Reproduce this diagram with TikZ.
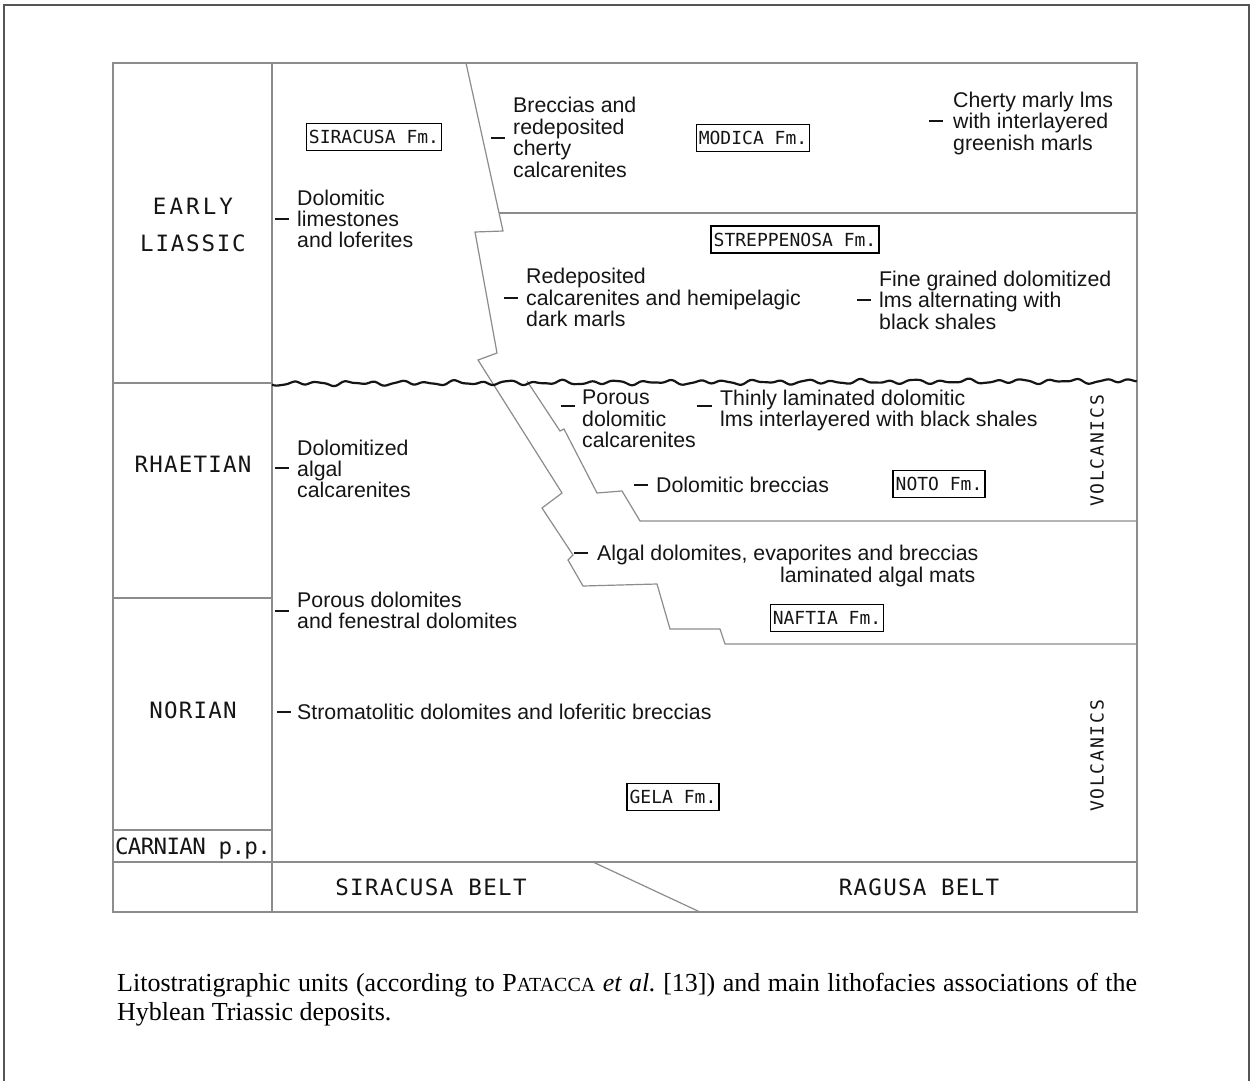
\documentclass[tikz,border=0pt]{standalone}
\usepackage{fontspec}
\setmainfont{Liberation Sans}
\newfontfamily\techfont{DejaVu Sans Mono}
\newfontfamily\capfont{Liberation Serif}
\usetikzlibrary{calc}
\definecolor{tablegray}{HTML}{8C8C8C}
\definecolor{txt}{HTML}{151515}
\definecolor{framegray}{HTML}{555555}
\begin{document}
\begin{tikzpicture}[x=1pt,y=-1pt,
  gridline/.style={draw=tablegray,line width=1.2pt,line join=miter},
  fmbox/.style={draw=black,line width=1.6pt,font=\techfont\fontsize{18}{18}\selectfont,text=txt,inner xsep=2.5pt,inner ysep=7pt,text height=13pt,text depth=0pt},
  lith/.style={font=\fontsize{21.3}{21.5}\selectfont,text=txt,inner sep=0pt,anchor=base west},
  lithr/.style={font=\fontsize{21.3}{21.5}\selectfont,text=txt,inner sep=0pt,anchor=base east},
  dashmark/.style={draw=txt,line width=1.2pt},
  agesp/.style={font=\techfont\fontsize{22.5}{22.5}\selectfont\addfontfeature{LetterSpace=#1},text=txt,inner sep=0pt,text height=16.4pt,text depth=0pt},
  volc/.style={font=\techfont\fontsize{18}{18}\selectfont\addfontfeature{LetterSpace=10},text=txt,inner sep=0pt,text height=13pt,text depth=0pt,rotate=90},
  capline/.style={font=\capfont\fontsize{26}{29.5}\selectfont\frenchspacing,text=black,inner sep=0pt,anchor=base west}
  ]
\useasboundingbox (0,0) rectangle (1250,1081);
\fill[white] (0,0) rectangle (1250,1081);
\draw[framegray,line width=1.6pt] (4,1090) -- (4,5) -- (1249,5) -- (1249,1090);

% table
\draw[gridline] (113,63) rectangle (1137,912);
\draw[gridline] (272,63) -- (272,912);
\draw[gridline] (113,383) -- (272,383);
\draw[gridline] (113,598) -- (272,598);
\draw[gridline] (113,830) -- (272,830);
\draw[gridline] (113,862) -- (1137,862);
\draw[gridline] (593,862) -- (700,912);
\draw[gridline] (499,213) -- (1137,213);
% boundary Siracusa / basin
\draw[gridline] (466,63) -- (503,231) -- (475,232) -- (497,353) -- (478,360) -- (562,493) -- (542,508) -- (573,555) -- (568,560) -- (583,586) -- (657,584) -- (670,629) -- (720,629) -- (725,644) -- (1137,644);
% boundary Noto
\draw[gridline] (527,381) -- (560,431) -- (564,429) -- (597,493) -- (622,491) -- (640,521) -- (1137,521);
% unconformity
\draw[txt,line width=2.2pt,line join=round] plot[domain=0:8.65,samples=430,smooth,variable=\t] ({272+100*\t},{383.5-2.5*\t/8.65+1.5*sin(1330*\t)+0.9*sin(710*\t+30)+0.6*sin(2*mod(1150*\t,180)+70)});

% ages
\node[agesp=13.7] (early) at (193,206) {EARLY};
\node[agesp=8] (liassic) at (193,243) {LIASSIC};
\node[agesp=5.3] (rhaetian) at (193,464) {RHAETIAN};
\node[agesp=5.3] (norian) at (193,710) {NORIAN};
\node[agesp=-3] (carnian) at (193,846) {CARNIAN p.p.};
\node[agesp=6.2] (sirbelt) at (431,887) {SIRACUSA BELT};
\node[agesp=5.5] (ragbelt) at (919,887) {RAGUSA BELT};

% formations
\node[fmbox] (siracusa) at (374,137) {SIRACUSA Fm.};
\node[fmbox] (modica) at (753,138) {MODICA Fm.};
\node[fmbox] (streppenosa) at (795,239.5) {STREPPENOSA Fm.};
\node[fmbox] (noto) at (939,484) {NOTO Fm.};
\node[fmbox] (naftia) at (827,618) {NAFTIA Fm.};
\node[fmbox] (gela) at (673,797) {GELA Fm.};
\node[volc] (volc1) at (1097,451) {VOLCANICS};
\node[volc] (volc2) at (1097,756) {VOLCANICS};

% lithofacies
\node[lith] (l1a) at (297,205) {Dolomitic};
\node[lith] (l1b) at (297,226) {limestones};
\node[lith] (l1c) at (297,247) {and loferites};
\draw[dashmark] ($(l1b.base west)+(-22,-7)$) -- ++(14,0);

\node[lith] (l2a) at (513,112) {Breccias and};
\node[lith] (l2b) at (513,134) {redeposited};
\node[lith] (l2c) at (513,155) {cherty};
\node[lith] (l2d) at (513,177) {calcarenites};
\draw[dashmark] ($(l2b.base west)+(-22,4)$) -- ++(14,0);

\node[lith] (l3a) at (953,107) {Cherty marly lms};
\node[lith] (l3b) at (953,128) {with interlayered};
\node[lith] (l3c) at (953,150) {greenish marls};
\draw[dashmark] ($(l3b.base west)+(-24,-7)$) -- ++(14,0);

\node[lith] (l4a) at (526,283) {Redeposited};
\node[lith] (l4b) at (526,305) {calcarenites and hemipelagic};
\node[lith] (l4c) at (526,326) {dark marls};
\draw[dashmark] ($(l4b.base west)+(-22,-7)$) -- ++(14,0);

\node[lith] (l5a) at (879,286) {Fine grained dolomitized};
\node[lith] (l5b) at (879,307) {lms alternating with};
\node[lith] (l5c) at (879,329) {black shales};
\draw[dashmark] ($(l5b.base west)+(-22,-7)$) -- ++(14,0);

\node[lith] (l6a) at (582,404) {Porous};
\node[lith] (l6b) at (582,426) {dolomitic};
\node[lith] (l6c) at (582,447) {calcarenites};
\draw[dashmark] ($(l6a.base west)+(-21,2)$) -- ++(14,0);

\node[lith] (l7a) at (720,405) {Thinly laminated dolomitic};
\node[lith] (l7b) at (720,426) {lms interlayered with black shales};
\draw[dashmark] ($(l7a.base west)+(-23,1)$) -- ++(15,0);

\node[lith] (l8a) at (656,492) {Dolomitic breccias};
\draw[dashmark] ($(l8a.base west)+(-22,-7)$) -- ++(14,0);

\node[lith] (l9a) at (597,560) {Algal dolomites, evaporites and breccias};
\node[lithr] (l9b) at ($(l9a.base east)+(-3,22)$) {laminated algal mats};
\draw[dashmark] ($(l9a.base west)+(-23,-7)$) -- ++(14,0);

\node[lith] (l10a) at (297,455) {Dolomitized};
\node[lith] (l10b) at (297,476) {algal};
\node[lith] (l10c) at (297,497) {calcarenites};
\draw[dashmark] ($(l10b.base west)+(-22,-8)$) -- ++(14,0);

\node[lith] (l11a) at (297,607) {Porous dolomites};
\node[lith] (l11b) at (297,628) {and fenestral dolomites};
\draw[dashmark] ($(l11a.base west)+(-22,4)$) -- ++(14,0);

\node[lith] (l12a) at (297,719) {Stromatolitic dolomites and loferitic breccias};
\draw[dashmark] ($(l12a.base west)+(-20,-7)$) -- ++(14,0);

% caption
\node[capline] (cap1) at (117,991) {\makebox[1020pt][s]{Litostratigraphic units (according to P{\fontsize{20}{20}\selectfont ATACCA} \textit{et al.\/} [13]) and main lithofacies associations of the}};
\node[capline] (cap2) at (117,1020.5) {Hyblean Triassic deposits.};
\end{tikzpicture}
\end{document}
